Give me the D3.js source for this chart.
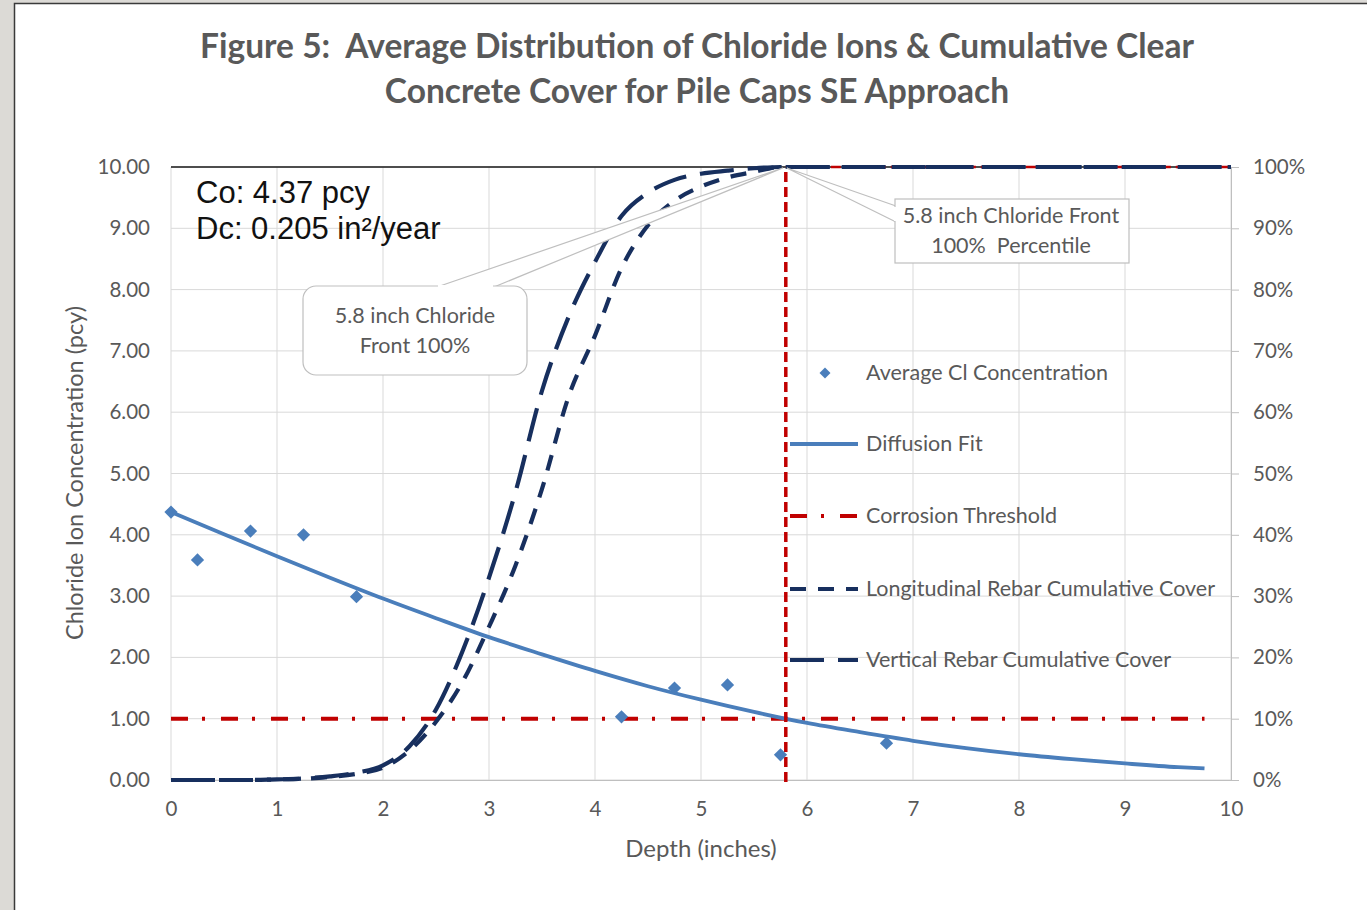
<!DOCTYPE html>
<html>
<head>
<meta charset="utf-8">
<script src="https://cdn.jsdelivr.net/npm/d3@7"></script>
<style>
  html, body { margin: 0; padding: 0; background: #dcdad6; }
  svg { display: block; }
  text { white-space: pre; }
</style>
</head>
<body>
<svg id="chart" width="1367" height="910"></svg>
<script>
// ---- Data ----
// Average chloride concentration by depth (pcy)
const sampleDepth = [0, 0.25, 0.75, 1.25, 1.75, 4.25, 4.75, 5.25, 5.75, 6.75];
const sampleConc  = [4.37, 3.59, 4.06, 4.00, 2.99, 1.03, 1.50, 1.55, 0.41, 0.60];

// Diffusion fit curve (pcy)
const fitDepth = [0, 0.5, 1, 1.5, 2, 2.5, 3, 3.5, 4, 4.5, 5, 5.5, 6, 6.5, 7, 7.5, 8, 8.5, 9, 9.5, 9.75];
const fitConc  = [4.37, 4.01, 3.65, 3.30, 2.96, 2.64, 2.33, 2.05, 1.78, 1.53, 1.31, 1.11, 0.93, 0.78, 0.64, 0.52, 0.42, 0.34, 0.27, 0.21, 0.19];

// Cumulative clear cover distributions (%)
const coverDepth   = [0, 0.25, 0.5, 0.75, 1, 1.25, 1.5, 1.75, 2, 2.25, 2.5, 2.75, 3, 3.25, 3.5, 3.75, 4, 4.25, 4.5, 4.75, 5, 5.25, 5.5, 5.75, 10];
const longitudinal = [0, 0, 0, 0, 0.1, 0.2, 0.5, 1.0, 2.0, 4.8, 9.5, 16, 25, 35, 47.5, 62.5, 72.5, 83.5, 90.5, 94.5, 96.8, 98.3, 99.2, 100, 100];
const verticalBar  = [0, 0, 0, 0, 0.1, 0.25, 0.6, 1.2, 2.4, 5.5, 11.5, 21, 33, 47, 63.5, 75.5, 84.5, 92, 95.8, 97.9, 98.9, 99.4, 99.8, 100, 100];

// Threshold and chloride front
const thresholdDepth = [0, 9.75];
const thresholdConc  = 1.00;
const chlorideFront  = 5.8;

// Axis ticks
const xTicks  = [0, 1, 2, 3, 4, 5, 6, 7, 8, 9, 10];
const yTicks  = [0, 1, 2, 3, 4, 5, 6, 7, 8, 9, 10];
const y2Ticks = [0, 10, 20, 30, 40, 50, 60, 70, 80, 90, 100];

const titleLines = [
  "Figure 5:  Average Distribution of Chloride Ions & Cumulative Clear",
  "Concrete Cover for Pile Caps SE Approach"
];
const paramLines = ["Co: 4.37 pcy", "Dc: 0.205 in\u00B2/year"];
const legendLabels = [
  "Average Cl Concentration",
  "Diffusion Fit",
  "Corrosion Threshold",
  "Longitudinal Rebar Cumulative Cover",
  "Vertical Rebar Cumulative Cover"
];

// ---- Styles ----
const C_TEXT = "#595959";
const C_GRID = "#d9d9d9";
const C_AXIS = "#bfbfbf";
const C_BLUE = "#4a7ebb";
const C_NAVY = "#172f5e";
const C_RED  = "#c00000";
const FONT = "Lato, 'Open Sans', sans-serif";

const svg = d3.select("#chart");

// Page panel
svg.append("rect").attr("x", 14.5).attr("y", 3.5).attr("width", 1360).attr("height", 910)
  .attr("fill", "#ffffff").attr("stroke", "#3a3a3a").attr("stroke-width", 1.5);

const x  = d3.scaleLinear().domain([0, 10]).range([171, 1231]);
const y  = d3.scaleLinear().domain([0, 10]).range([780, 167]);
const y2 = d3.scaleLinear().domain([0, 100]).range([780, 167]);

// Title
svg.append("text").attr("x", 697).attr("y", 58)
  .attr("text-anchor", "middle").attr("font-family", FONT).attr("font-weight", 700)
  .attr("font-size", 33.5).attr("fill", C_TEXT)
  .selectAll("tspan").data(titleLines).join("tspan")
  .attr("x", 697).attr("dy", (d, i) => i === 0 ? 0 : 45).text(d => d);

// Gridlines
const grid = svg.append("g");
grid.selectAll("line.h").data(yTicks).join("line")
  .attr("x1", x(0)).attr("x2", x(10)).attr("y1", d => y(d)).attr("y2", d => y(d))
  .attr("stroke", C_GRID).attr("stroke-width", 1);
grid.selectAll("line.v").data(xTicks).join("line")
  .attr("x1", d => x(d)).attr("x2", d => x(d)).attr("y1", y(0)).attr("y2", y(10))
  .attr("stroke", C_GRID).attr("stroke-width", 1);

// Axes
const axisLeft = svg.append("g").attr("transform", `translate(${x(0)},0)`)
  .call(d3.axisLeft(y).tickValues(yTicks).tickFormat(d3.format(".2f")).tickSize(0).tickPadding(21));
axisLeft.select(".domain").remove();

const axisBottom = svg.append("g").attr("transform", `translate(0,${y(0)})`)
  .call(d3.axisBottom(x).tickValues(xTicks).tickFormat(d3.format("d")).tickSize(0).tickPadding(21));
axisBottom.select(".domain").attr("stroke", C_AXIS);

const axisRight = svg.append("g").attr("transform", `translate(${x(10)},0)`)
  .call(d3.axisRight(y2).tickValues(y2Ticks).tickFormat(d => d + "%").tickSize(8).tickSizeOuter(0).tickPadding(14));
axisRight.select(".domain").attr("stroke", C_AXIS);
axisRight.selectAll(".tick line").attr("stroke", C_AXIS);

[axisLeft, axisBottom, axisRight].forEach(g => g.selectAll(".tick text")
  .attr("font-family", FONT).attr("font-size", 20.5).attr("fill", C_TEXT));

// Top frame line
svg.append("line").attr("x1", x(0)).attr("x2", x(10)).attr("y1", y(10)).attr("y2", y(10))
  .attr("stroke", "#1a1a1a").attr("stroke-width", 1.5);

// Axis titles
svg.append("text").attr("x", 701).attr("y", 857).attr("text-anchor", "middle")
  .attr("font-family", FONT).attr("font-size", 24).attr("fill", C_TEXT).text("Depth (inches)");
svg.append("text").attr("transform", "translate(83,473) rotate(-90)").attr("text-anchor", "middle")
  .attr("font-family", FONT).attr("font-size", 23.5).attr("fill", C_TEXT)
  .text("Chloride Ion Concentration (pcy)");

// Corrosion threshold (dash-dot)
const thresholdDash = "17,14,3,16";
svg.append("line")
  .attr("x1", x(thresholdDepth[0])).attr("x2", x(thresholdDepth[1]))
  .attr("y1", y(thresholdConc)).attr("y2", y(thresholdConc))
  .attr("stroke", C_RED).attr("stroke-width", 4).attr("stroke-dasharray", thresholdDash);

// Diffusion fit
const fitLine = d3.line().x(d => x(d[0])).y(d => y(d[1])).curve(d3.curveMonotoneX);
svg.append("path").datum(d3.zip(fitDepth, fitConc)).attr("d", fitLine)
  .attr("fill", "none").attr("stroke", C_BLUE).attr("stroke-width", 3.8);

// Chloride front marker
const frontDash = "10,5";
svg.append("line")
  .attr("x1", x(chlorideFront)).attr("x2", x(chlorideFront)).attr("y1", y(0) + 2).attr("y2", y(10))
  .attr("stroke", C_RED).attr("stroke-width", 3.5).attr("stroke-dasharray", frontDash);
svg.append("line")
  .attr("x1", x(chlorideFront)).attr("x2", x(10)).attr("y1", y(10)).attr("y2", y(10))
  .attr("stroke", C_RED).attr("stroke-width", 2.5).attr("stroke-dasharray", frontDash);

// Cumulative cover curves (secondary axis)
const coverLine = d3.line().x(d => x(d[0])).y(d => y2(d[1])).curve(d3.curveMonotoneX);
const longDash = "16,12";
const vertDash = "34,14";
svg.append("path").datum(d3.zip(coverDepth, longitudinal)).attr("d", coverLine)
  .attr("fill", "none").attr("stroke", C_NAVY).attr("stroke-width", 4.2).attr("stroke-dasharray", longDash);
svg.append("path").datum(d3.zip(coverDepth, verticalBar)).attr("d", coverLine)
  .attr("fill", "none").attr("stroke", C_NAVY).attr("stroke-width", 4.2).attr("stroke-dasharray", vertDash);

// Sample points
svg.append("g").selectAll("path").data(d3.zip(sampleDepth, sampleConc)).join("path")
  .attr("transform", d => `translate(${x(d[0])},${y(d[1])}) rotate(45)`)
  .attr("d", d3.symbol(d3.symbolSquare, 88)())
  .attr("fill", C_BLUE);

// Parameter text box
svg.append("text").attr("font-family", "'Liberation Sans', Arial, sans-serif")
  .attr("font-size", 31).attr("fill", "#111111")
  .selectAll("tspan").data(paramLines).join("tspan")
  .attr("x", 196).attr("y", (d, i) => 203 + i * 36).text(d => d);

// Callouts
const tip = [x(chlorideFront) - 3, y(10) + 1];
const callout = svg.append("g").attr("font-family", FONT).attr("font-size", 21.5).attr("fill", C_TEXT);

// left rounded callout with wedge from its top edge
callout.append("path")
  .attr("d", `M437,287 L${tip[0]},${tip[1]} L494,287`)
  .attr("fill", "#ffffff").attr("stroke", C_AXIS).attr("stroke-width", 1.2);
callout.append("rect").attr("x", 303).attr("y", 286).attr("width", 224).attr("height", 89)
  .attr("rx", 13).attr("fill", "#ffffff").attr("stroke", C_AXIS).attr("stroke-width", 1.2);
callout.append("line").attr("x1", 438).attr("x2", 493).attr("y1", 286).attr("y2", 286)
  .attr("stroke", "#ffffff").attr("stroke-width", 2);
callout.append("text").attr("text-anchor", "middle")
  .selectAll("tspan").data(["5.8 inch Chloride", "Front 100%"]).join("tspan")
  .attr("x", 415).attr("y", (d, i) => 323 + i * 30).text(d => d);

// right rectangular callout with wedge from its left edge
callout.append("path")
  .attr("d", `M896,206 L${tip[0] + 4},${tip[1]} L896,222`)
  .attr("fill", "#ffffff").attr("stroke", C_AXIS).attr("stroke-width", 1.2);
callout.append("rect").attr("x", 895).attr("y", 199).attr("width", 234).attr("height", 64)
  .attr("fill", "#ffffff").attr("stroke", C_AXIS).attr("stroke-width", 1.2);
callout.append("line").attr("x1", 895).attr("x2", 895).attr("y1", 207).attr("y2", 221)
  .attr("stroke", "#ffffff").attr("stroke-width", 2);
callout.append("text").attr("text-anchor", "middle")
  .selectAll("tspan").data(["5.8 inch Chloride Front", "100%  Percentile"]).join("tspan")
  .attr("x", 1011).attr("y", (d, i) => 223 + i * 30).text(d => d);

// Legend
const legend = svg.append("g").attr("font-family", FONT).attr("font-size", 21.5).attr("fill", C_TEXT);
const legY = [373, 444, 516, 589, 660];
legend.selectAll("text").data(legendLabels).join("text")
  .attr("x", 866).attr("y", (d, i) => legY[i] + 7).text(d => d);
legend.append("path").attr("transform", `translate(825,${legY[0]}) rotate(45)`)
  .attr("d", d3.symbol(d3.symbolSquare, 60)()).attr("fill", C_BLUE);
const sample = (i, stroke, w, dash) => legend.append("line")
  .attr("x1", 790).attr("x2", 858).attr("y1", legY[i]).attr("y2", legY[i])
  .attr("stroke", stroke).attr("stroke-width", w).attr("stroke-dasharray", dash);
sample(1, C_BLUE, 3.8, null);
sample(2, C_RED, 4, thresholdDash);
sample(3, C_NAVY, 4.2, longDash);
sample(4, C_NAVY, 4.2, vertDash);
</script>
</body>
</html>
